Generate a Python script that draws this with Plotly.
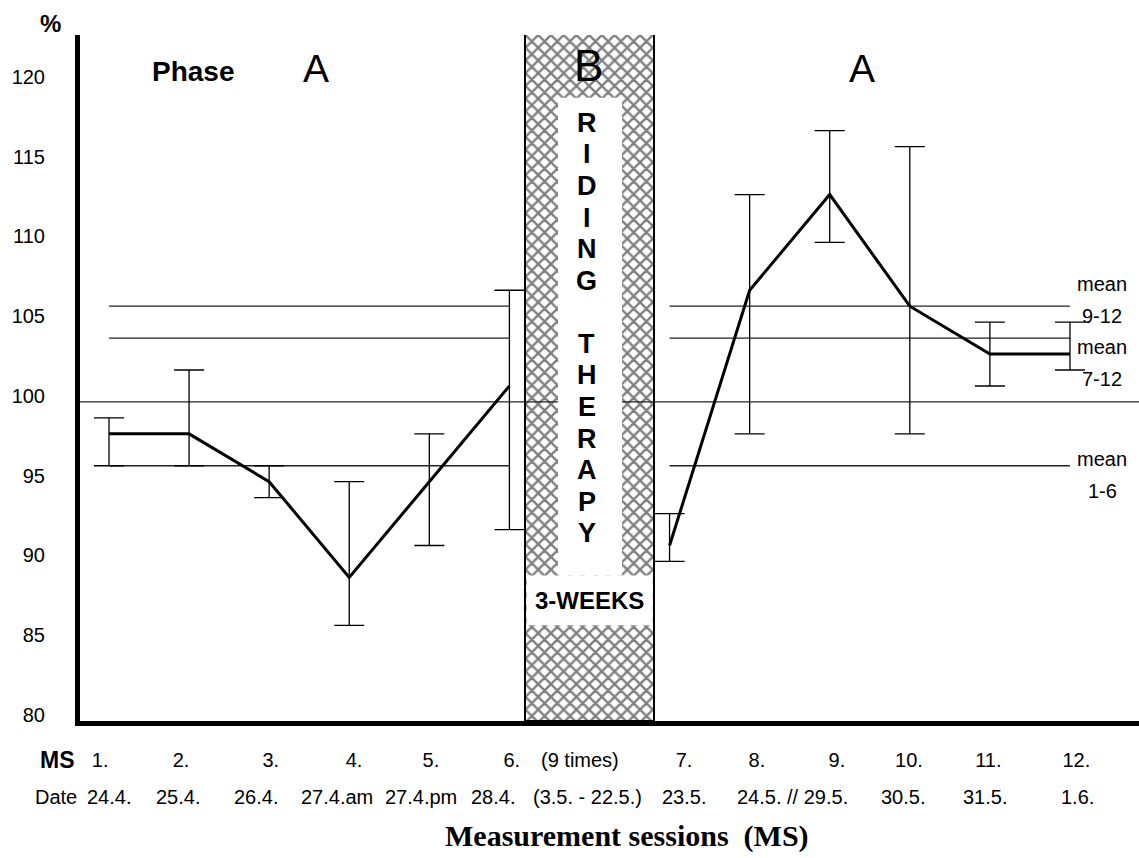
import plotly.graph_objects as go

# ---- data -------------------------------------------------------------
# x slots: sessions 1-6 of phase A, slot 7 = phase B, sessions 7-12 of phase A
phase_a1_x = [1, 2, 3, 4, 5, 6]
phase_a2_x = [8, 9, 10, 11, 12, 13]
phase_b_x = 7

phase_a1_value = [98, 98, 95, 89, 95, 101]
phase_a1_upper = [99, 102, 96, 95, 98, 107]
phase_a1_lower = [96, 96, 94, 86, 91, 92]

phase_a2_value = [91, 107, 113, 106, 103, 103]
phase_a2_upper = [93, 113, 117, 116, 105, 105]
phase_a2_lower = [90, 98, 110, 98, 101, 102]

mean_1_6 = 96
mean_7_12 = 104
mean_9_12 = 106
baseline_level = 100

y_tick_values = [80, 85, 90, 95, 100, 105, 110, 115, 120]
ms_labels = ["1.", "2.", "3.", "4.", "5.", "6.", "(9 times)",
             "7.", "8.", "9.", "10.", "11.", "12."]
date_labels = ["24.4.", "25.4.", "26.4.", "27.4.am", "27.4.pm", "28.4.",
               "(3.5. - 22.5.)", "23.5.", "24.5. // 29.5.", "30.5.",
               "31.5.", "1.6."]
therapy_letters = list("RIDING THERAPY")

# ---- layout geometry ---------------------------------------------------
W, H = 1139, 858
PL, PT, PR, PB = 80, 35, 1139, 721          # plot area in pixels
X_RANGE = [0.638, 13.862]
Y_RANGE = [80.0, 123.0]

def paper_x(px):
    return (px - PL) / (PR - PL)

def paper_y(py):
    return (PB - py) / (PB - PT)

SANS = "Arial, Liberation Sans, sans-serif"
SERIF = "Times New Roman, Liberation Serif, serif"

# label centres along the x axis (in axis units)
ms_label_x = [0.89, 1.90, 3.02, 4.06, 5.02, 6.03, 6.88,
              8.18, 9.09, 10.09, 10.99, 11.98, 13.08]
date_label_x = [1.0, 1.86, 2.84, 3.85, 4.90, 5.80, 6.98,
                8.18, 9.54, 10.92, 11.94, 13.10]

fig = go.Figure()

# 100 % reference line across the whole chart (the phase B block covers it)
fig.add_trace(go.Scatter(
    x=[X_RANGE[0], X_RANGE[1]], y=[baseline_level, baseline_level],
    mode="lines", line=dict(color="#222", width=1.3),
    hoverinfo="skip", showlegend=False))

# phase B block: cross-hatched column
fig.add_trace(go.Bar(
    x=[phase_b_x], y=[Y_RANGE[1] - Y_RANGE[0] + 0.1], base=[Y_RANGE[0]],
    width=1.62,
    marker=dict(color="white",
                line=dict(color="black", width=2),
                pattern=dict(shape="x", size=9, solidity=0.45,
                             fgcolor="black", bgcolor="white")),
    hoverinfo="skip", showlegend=False))

# group means, drawn over both phase A stretches
for level in (mean_9_12, mean_7_12, mean_1_6):
    for xs in (phase_a1_x, phase_a2_x):
        fig.add_trace(go.Scatter(
            x=[xs[0], xs[-1]], y=[level, level], mode="lines",
            line=dict(color="#222", width=1.3),
            hoverinfo="skip", showlegend=False))

# session values with their ranges
for xs, val, up, lo in ((phase_a1_x, phase_a1_value, phase_a1_upper, phase_a1_lower),
                        (phase_a2_x, phase_a2_value, phase_a2_upper, phase_a2_lower)):
    fig.add_trace(go.Scatter(
        x=xs, y=val, mode="lines",
        line=dict(color="black", width=3),
        error_y=dict(type="data", symmetric=False,
                     array=[u - v for u, v in zip(up, val)],
                     arrayminus=[v - l for l, v in zip(lo, val)],
                     color="black", thickness=1.3, width=15),
        showlegend=False))

# white panels inside the phase B block
shapes = [
    dict(type="rect", xref="x", yref="y", x0=6.607, x1=7.406,
         y0=89.125, y1=119.06, fillcolor="white", line=dict(width=0),
         layer="above"),
    dict(type="rect", xref="x", yref="y", x0=6.215, x1=7.79,
         y0=86.0, y1=89.125, fillcolor="white", line=dict(width=0),
         layer="above"),
]

annotations = []

def note(text, x, y, size, bold=False, xref="x", yref="y", family=SANS,
         xanchor="center"):
    annotations.append(dict(
        text=f"<b>{text}</b>" if bold else text, x=x, y=y, xref=xref,
        yref=yref, showarrow=False, xanchor=xanchor, yanchor="middle",
        font=dict(family=family, size=size, color="black")))

# phase headings
note("Phase", 2.06, 120.7, 28, bold=True)
note("A", 3.585, 120.9, 39)
note("A", 10.40, 120.9, 39)
note("B", 6.99, 121.1, 44)

# vertical "RIDING THERAPY" inside the white column
y_letter = 117.5
for ch in therapy_letters:
    if ch != " ":
        note(ch, 6.965, y_letter, 27, bold=True)
    y_letter -= 1.98

note("3-WEEKS", 6.995, 87.56, 24, bold=True)

# labels for the mean lines
for txt, yv in (("mean", 107.37), ("9-12", 105.37),
                ("mean", 103.44), ("7-12", 101.44),
                ("mean", 96.44), ("1-6", 94.44)):
    note(txt, 13.4, yv, 20)

# axis unit and row headings
note("%", paper_x(50), paper_y(24), 24, bold=True, xref="paper", yref="paper")
note("MS", paper_x(57), paper_y(760), 23, bold=True, xref="paper", yref="paper")
note("Date", paper_x(56), paper_y(797), 20, xref="paper", yref="paper")

# date row under the session numbers
for lbl, xv in zip(date_labels, date_label_x):
    note(lbl, xv, paper_y(797), 20, yref="paper")

# axis title
note("Measurement sessions\u00a0 (MS)", paper_x(627), paper_y(836), 30,
     bold=True, xref="paper", yref="paper", family=SERIF)

fig.update_layout(
    width=W, height=H,
    margin=dict(l=PL, r=W - PR, t=PT, b=H - PB, pad=0),
    paper_bgcolor="white", plot_bgcolor="white",
    showlegend=False, bargap=0,
    shapes=shapes, annotations=annotations,
    xaxis=dict(range=X_RANGE, showgrid=False, zeroline=False,
               showline=True, linewidth=5, linecolor="black",
               tickmode="array", tickvals=ms_label_x, ticktext=ms_labels,
               ticks="", ticklabelstandoff=17,
               tickfont=dict(family=SANS, size=20, color="black")),
    yaxis=dict(range=Y_RANGE, showgrid=False, zeroline=False,
               showline=True, linewidth=5, linecolor="black",
               tickmode="array", tickvals=y_tick_values,
               ticktext=[str(v) for v in y_tick_values],
               ticks="", ticklabelstandoff=26, ticklabelshift=-6,
               tickfont=dict(family=SANS, size=20, color="black")),
)

fig.write_html("out.html")
